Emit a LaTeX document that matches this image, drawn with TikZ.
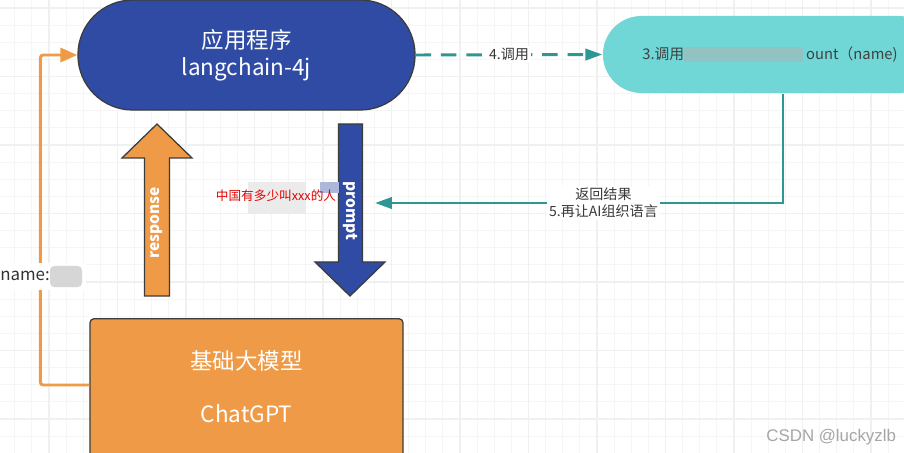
\documentclass[tikz,border=0pt]{standalone}
\usepackage{fontspec}
\setmainfont{Noto Sans CJK SC}
\newfontfamily\markfont{Liberation Sans}
\usetikzlibrary{arrows.meta}
\definecolor{appblue}{HTML}{2F4BA4}
\definecolor{toolcyan}{HTML}{70D6D6}
\definecolor{linkteal}{HTML}{2E9694}
\definecolor{modelorange}{HTML}{EE9A46}
\definecolor{edgegray}{HTML}{3C3C3C}
\tikzset{
	box/.style={draw=edgegray,line width=0.9pt,inner sep=0pt,text=white,align=center},
	lbl/.style={fill=white,inner sep=1.5pt,text=black!78,align=center},
	tealline/.style={linkteal,line width=2.1pt,-{Triangle[length=12pt,width=8pt]}},
	blockarrow/.style={draw=edgegray,line width=0.9pt},
	bigtext/.style={font=\fontsize{16}{19.5}\selectfont}
}
\begin{document}
\begin{tikzpicture}[x=0.025cm,y=-0.025cm]
\useasboundingbox (0,0) rectangle (904,453);
\clip (0,0) rectangle (904,453);
\fill[white] (0,0) rectangle (904,453);
\foreach \i in {0,...,54}{
	\draw[black!4,line width=0.6pt] ({-2.375+17.125*\i},0) -- ++(0,453);}
\foreach \i in {0,...,27}{
	\draw[black!4,line width=0.6pt] (0,{-9.125+17.125*\i}) -- ++(904,0);}
\foreach \i in {0,...,13}{
	\draw[black!6,line width=0.9pt] ({-19.5+68.5*\i},0) -- ++(0,453);}
\foreach \i in {0,...,7}{
	\draw[black!6,line width=0.9pt] (0,{8+68.5*\i}) -- ++(904,0);}

\node[box,bigtext,fill=appblue,minimum width=8.425cm,minimum height=2.75cm,rounded corners=1.37cm] (app) at (246.5,55) {应用程序\\langchain-4j};
\node[box,draw=none,fill=toolcyan,text=black!75,minimum width=8.35cm,minimum height=1.925cm,rounded corners=0.96cm,font=\fontsize{10.5}{12}\selectfont] (tool) at (770,54.5) {3.调用\hspace{3.05cm}ount（name)};
\node[box,fill=modelorange,minimum width=7.825cm,minimum height=3.8cm,rounded corners=3pt,anchor=north] (model) at (246.5,318) {};
\node[bigtext,text=white,align=center] (modeltext) at (246.5,386.5) {基础大模型\\[18pt]ChatGPT};
\coordinate (promptin) at (375,203);

\fill[black!30,opacity=0.5] (684,47) rectangle (803,62);

\draw[modelorange,line width=2.1pt,rounded corners=2pt,-{Triangle[length=12pt,width=10pt]}] (model.west |- 0,385) -- ++(-49,0) |- (app.west);
\draw[tealline,dash pattern=on 11pt off 7pt] (app.east) -- node[lbl,font=\fontsize{10}{12}\selectfont] (call) {4.调用} (tool.west);
\draw[tealline] ([xshift=0.325cm]tool.south) |- node[lbl,pos=0.72,font=\fontsize{10}{12}\selectfont] (back) {返回结果\\5.再让AI组织语言} (promptin);

\filldraw[blockarrow,fill=modelorange] (144.5,296) -- (144.5,158) -- (122,158) -- (157,124) -- (192,158) -- (169.5,158) -- (169.5,296) -- cycle;
\node[rotate=90,text=white,font=\bfseries\fontsize{11}{13}\selectfont] (resp) at (157,223) {response};
\filldraw[blockarrow,fill=appblue] (338.5,124) -- (362.5,124) -- (362.5,262) -- (385,262) -- (350,296) -- (315,262) -- (338.5,262) -- cycle;
\node[rotate=-90,text=white,font=\bfseries\fontsize{11}{13}\selectfont] (prompt) at (350,211) {prompt};

\fill[black!8] (248,182) rectangle (306,214);
\fill[appblue!40] (320,182) rectangle (339,193);
\node[text=red!90!black,font=\fontsize{9}{11}\selectfont] (question) at (276,196) {中国有多少叫xxx的人};

\fill[white] (0,263) rectangle (86,290);
\node[anchor=west,inner sep=0pt,text=black!80,font=\fontsize{12}{14}\selectfont] (namelbl) at (0,276) {name:};
\fill[black!16,rounded corners=3pt] (50,266) rectangle (82,287);

\node[anchor=east,text=black!35,font=\markfont\fontsize{12}{14}\selectfont] (mark) at (901,437) {CSDN @luckyzlb};
\end{tikzpicture}
\end{document}
